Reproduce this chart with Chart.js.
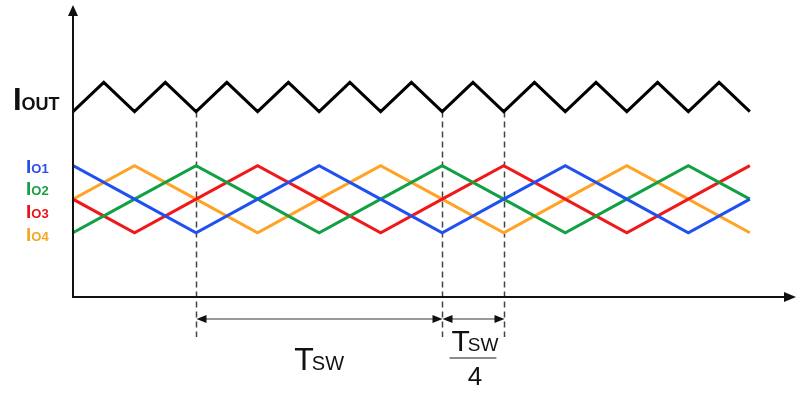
<!doctype html>
<html lang="en">
<head>
    <meta charset="utf-8">
    <title>Interleaved phase currents</title>
    <style>
        * { margin: 0; padding: 0; }
        body { background: #fff; width: 800px; height: 394px; overflow: hidden; }
        .chartBox { width: 800px; height: 394px; }
    </style>
</head>
<body>
    <div class="chartBox">
        <canvas id="myChart" width="800" height="394"></canvas>
    </div>

    <script src="https://cdn.jsdelivr.net/npm/chart.js"></script>
    <script>
        // time axis, in quarter-of-half-period units (Tsw = 8)
        const tPhase = [0, 2, 4, 6, 8, 10, 12, 14, 16, 18, 20, 22]
        const tOut = [0, 1, 2, 3, 4, 5, 6, 7, 8, 9, 10, 11, 12, 13, 14, 15, 16, 17, 18, 19, 20, 21, 22]

        // series values (arbitrary units)
        const io1 = [45, 33.5, 22, 33.5, 45, 33.5, 22, 33.5, 45, 33.5, 22, 33.5]
        const io2 = [22, 33.5, 45, 33.5, 22, 33.5, 45, 33.5, 22, 33.5, 45, 33.5]
        const io3 = [33.5, 22, 33.5, 45, 33.5, 22, 33.5, 45, 33.5, 22, 33.5, 45]
        const io4 = [33.5, 45, 33.5, 22, 33.5, 45, 33.5, 22, 33.5, 45, 33.5, 22]
        const iout = [63.5, 73.5, 63.5, 73.5, 63.5, 73.5, 63.5, 73.5, 63.5, 73.5, 63.5, 73.5,
            63.5, 73.5, 63.5, 73.5, 63.5, 73.5, 63.5, 73.5, 63.5, 73.5, 63.5]

        const phaseLabels = ['O1', 'O2', 'O3', 'O4']
        const phaseColors = ['#2050f0', '#12a044', '#f01818', '#ffa324']
        const labelColors = ['#2a4fe8', '#1a9e44', '#e8141c', '#f5a623']

        // dashed markers and the two spans (Tsw and Tsw/4)
        const markers = [4, 12, 14]
        const spans = [[4, 12], [12, 14]]

        const FONT = "'Liberation Sans', Arial, sans-serif"

        const toPoints = (xs, ys) => xs.map((x, i) => ({ x: x, y: ys[i] }))

        const phases = [io1, io2, io3, io4]
        const dataSets = phases.map((vals, index) => {
            return {
                label: 'I' + phaseLabels[index],
                data: toPoints(tPhase, vals),
                borderColor: phaseColors[index],
                borderWidth: 3,
                pointRadius: 0,
                tension: 0,
                borderJoinStyle: 'miter'
            }
        })
        dataSets.push({
            label: 'IOUT',
            data: toPoints(tOut, iout),
            borderColor: '#000',
            borderWidth: 3,
            pointRadius: 0,
            tension: 0,
            borderJoinStyle: 'miter'
        })

        function arrowHead(ctx, x, y, dir, len, half) {
            // dir: 'left' | 'right' | 'up'
            ctx.beginPath()
            ctx.moveTo(x, y)
            if (dir === 'left') {
                ctx.lineTo(x + len, y - half)
                ctx.lineTo(x + len, y + half)
            } else if (dir === 'right') {
                ctx.lineTo(x - len, y - half)
                ctx.lineTo(x - len, y + half)
            } else {
                ctx.lineTo(x - half, y + len)
                ctx.lineTo(x + half, y + len)
            }
            ctx.closePath()
            ctx.fill()
        }

        // draws T with SW subscript, centred on cx, baseline by
        function drawTsw(ctx, cx, by, big, small) {
            ctx.font = big + 'px ' + FONT
            const wT = ctx.measureText('T').width
            ctx.font = small + 'px ' + FONT
            const wS = ctx.measureText('SW').width
            const x0 = cx - (wT + wS - 2) / 2
            ctx.fillStyle = '#111'
            ctx.textAlign = 'left'
            ctx.textBaseline = 'alphabetic'
            ctx.font = big + 'px ' + FONT
            ctx.fillText('T', x0, by)
            ctx.font = small + 'px ' + FONT
            ctx.fillText('SW', x0 + wT - 2, by)
            return { x0: x0, x1: x0 + wT + wS - 2 }
        }

        const decor = {
            id: 'decor',
            beforeDatasetsDraw(chart) {
                const ctx = chart.ctx
                const x = chart.scales.x
                const y = chart.scales.y
                const top = y.getPixelForValue(63.5)
                const bottom = chart.chartArea.bottom + 40
                ctx.save()
                ctx.strokeStyle = '#444'
                ctx.lineWidth = 1.5
                ctx.setLineDash([6, 4])
                markers.forEach(m => {
                    const px = Math.round(x.getPixelForValue(m)) + 0.5
                    ctx.beginPath()
                    ctx.moveTo(px, top)
                    ctx.lineTo(px, bottom)
                    ctx.stroke()
                })
                ctx.restore()
            },
            afterDraw(chart) {
                const ctx = chart.ctx
                const area = chart.chartArea
                const x = chart.scales.x
                const y = chart.scales.y
                ctx.save()

                // axes
                const ox = x.getPixelForValue(0)
                const oy = area.bottom
                ctx.strokeStyle = '#111'
                ctx.fillStyle = '#111'
                ctx.lineWidth = 2
                ctx.beginPath()
                ctx.moveTo(ox, oy + 1)
                ctx.lineTo(ox, area.top + 8)
                ctx.moveTo(ox - 1, oy)
                ctx.lineTo(area.right - 8, oy)
                ctx.stroke()
                arrowHead(ctx, ox, area.top, 'up', 11, 5)
                arrowHead(ctx, area.right, oy, 'right', 12, 5)

                // dimension lines
                const dimY = area.bottom + 22
                spans.forEach(s => {
                    const a = Math.round(x.getPixelForValue(s[0])) + 0.5
                    const b = Math.round(x.getPixelForValue(s[1])) + 0.5
                    ctx.strokeStyle = '#777'
                    ctx.lineWidth = 1.5
                    ctx.beginPath()
                    ctx.moveTo(a + 4, dimY)
                    ctx.lineTo(b - 4, dimY)
                    ctx.stroke()
                    ctx.fillStyle = '#111'
                    arrowHead(ctx, a, dimY, 'left', 10, 4)
                    arrowHead(ctx, b, dimY, 'right', 10, 4)
                })

                // Tsw label
                const c1 = (x.getPixelForValue(spans[0][0]) + x.getPixelForValue(spans[0][1])) / 2
                drawTsw(ctx, c1, area.bottom + 73, 32, 20)

                // Tsw / 4 label
                const c2 = (x.getPixelForValue(spans[1][0]) + x.getPixelForValue(spans[1][1])) / 2 + 2
                const ext = drawTsw(ctx, c2, area.bottom + 54, 30, 19)
                ctx.strokeStyle = '#666'
                ctx.lineWidth = 1.5
                ctx.beginPath()
                ctx.moveTo(ext.x0 - 2, area.bottom + 61)
                ctx.lineTo(ext.x1 - 2, area.bottom + 61)
                ctx.stroke()
                ctx.fillStyle = '#111'
                ctx.font = '26px ' + FONT
                ctx.textAlign = 'center'
                ctx.fillText('4', c2, area.bottom + 88)

                // IOUT label
                const midOut = (y.getPixelForValue(63.5) + y.getPixelForValue(73.5)) / 2
                ctx.textAlign = 'left'
                ctx.fillStyle = '#111'
                ctx.font = 'bold 31px ' + FONT
                ctx.fillText('I', 13, midOut + 13)
                const wI = ctx.measureText('I').width
                ctx.font = 'bold 18px ' + FONT
                ctx.fillText('OUT', 13 + wI, midOut + 13)

                // phase labels
                const yHi = y.getPixelForValue(45)
                const yLo = y.getPixelForValue(22)
                phaseLabels.forEach((sub, i) => {
                    const by = yHi + 7 + i * (yLo - yHi + 1) / 3
                    ctx.fillStyle = labelColors[i]
                    ctx.font = 'bold 19px ' + FONT
                    ctx.fillText('I', 26, by)
                    const w = ctx.measureText('I').width
                    ctx.font = 'bold 13px ' + FONT
                    ctx.fillText(sub, 26 + w, by)
                })

                ctx.restore()
            }
        }

        const config = {
            type: 'line',
            data: { datasets: dataSets },
            options: {
                responsive: false,
                animation: false,
                layout: {
                    padding: { left: 73, right: 4, top: 5, bottom: 97 }
                },
                plugins: {
                    legend: { display: false },
                    tooltip: { enabled: false }
                },
                scales: {
                    x: { type: 'linear', min: 0, max: 23.5, display: false },
                    y: { type: 'linear', min: 0, max: 100, display: false }
                }
            },
            plugins: [decor]
        }

        const myChart = new Chart(document.getElementById('myChart'), config)
    </script>
</body>
</html>
